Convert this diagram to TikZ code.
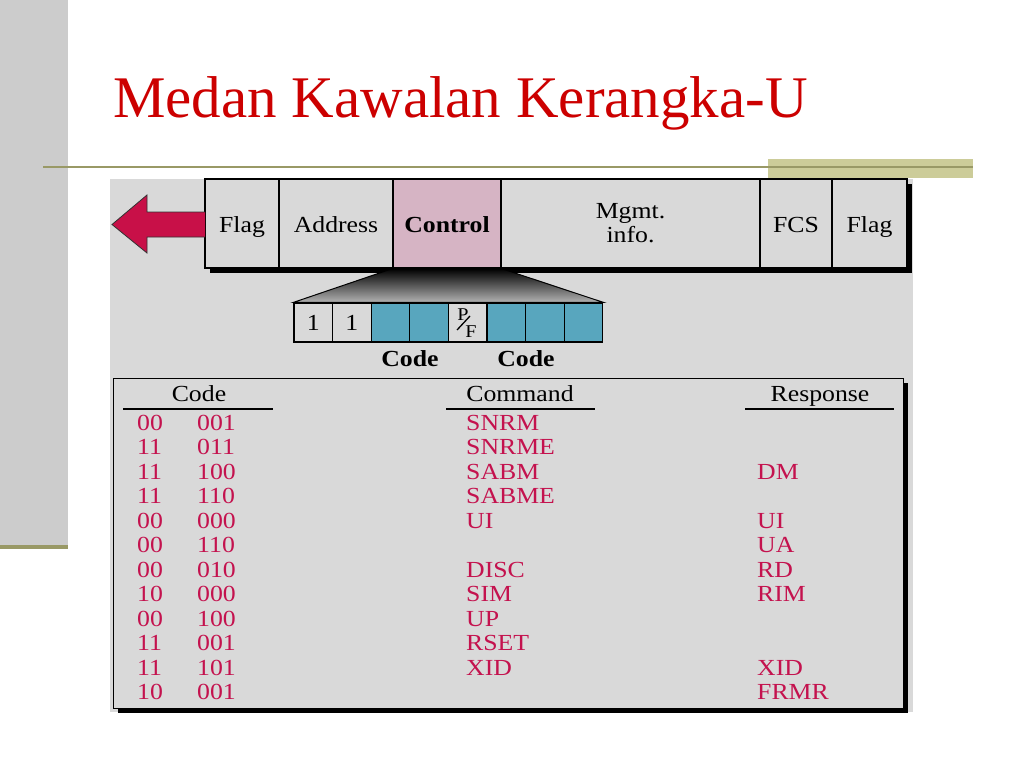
\documentclass[tikz,border=0pt]{standalone}
\usepackage{fontspec}
\setmainfont{Liberation Serif}
\newfontfamily\diagfont[FakeStretch=1.12]{Liberation Serif}
\definecolor{bggray}{RGB}{217,217,217}
\definecolor{leftgray}{RGB}{204,204,204}
\definecolor{olivedark}{RGB}{153,153,102}
\definecolor{olivelight}{RGB}{204,204,153}
\definecolor{titlered}{RGB}{204,0,0}
\definecolor{ctrlpink}{RGB}{214,180,196}
\definecolor{bitteal}{RGB}{88,166,190}
\definecolor{tabred}{RGB}{196,18,78}
\definecolor{arrowred}{RGB}{200,16,72}
\tikzset{
  dtext/.style={font=\diagfont\fontsize{23}{24}\selectfont, inner sep=0pt},
  cell/.style={dtext, draw=black, line width=1.2pt, fill=bggray, minimum height=89, align=center},
  onerow/.style={text height=17, text depth=0},
  bitbox/.style={dtext, draw=black, line width=1.2pt, minimum width=38.6, minimum height=39},
  pftext/.style={inner sep=0pt, anchor=base, font=\diagfont\fontsize{18}{18}\selectfont},
  hdr/.style={dtext, text=black, anchor=base},
  rowtext/.style={dtext, text=tabred, anchor=base west},
  rule/.style={draw=black, line width=1.2pt}
}
\begin{document}
\begin{tikzpicture}[x=1pt,y=-1pt]
\useasboundingbox (0,0) rectangle (1024,768);
\fill[white] (0,0) rectangle (1024,768);
% slide decoration
\fill[leftgray] (0,0) rectangle (68,545);
\fill[olivedark] (0,545) rectangle (68,549);
\fill[olivelight] (768,159) rectangle (973,178);
\coordinate (ruleL) at (43,167);
\coordinate (ruleR) at (973,167);
\draw[olivedark, line width=2pt] (ruleL) -- (ruleR);
\node[anchor=base west, inner sep=0pt, text=titlered, font=\fontsize{59}{60}\selectfont] (title) at (113,117) {Medan Kawalan Kerangka-U};
% diagram background
\fill[bggray] (110,179) rectangle (913,712);
% frame shadow
\fill[black] (210,184) rectangle (912,273);
% frame cells
\node[cell, onerow, minimum width=74] (flagL) at (242,223.5) {Flag};
\node[cell, onerow, minimum width=114] (addr) at (336,223.5) {Address};
\node[cell, onerow, minimum width=108, fill=ctrlpink, font=\diagfont\bfseries\fontsize{23}{24}\selectfont] (ctrl) at (447,223.5) {Control};
\node[cell, minimum width=259] (mgmt) at (630.5,223.5) {Mgmt.\\info.};
\node[cell, onerow, minimum width=72] (fcs) at (796,223.5) {FCS};
\node[cell, onerow, minimum width=75] (flagR) at (869.5,223.5) {Flag};
% direction arrow
\draw[fill=arrowred, draw=black!80, line width=0.8pt] (205,212) -- (147,212) -- (147,195) -- (112,224.5) -- (147,253) -- (147,237) -- (205,237);
% bits
\foreach \i/\f/\t in {1/bggray/1, 2/bggray/1, 3/bitteal/, 4/bitteal/, 5/bggray/, 6/bitteal/, 7/bitteal/, 8/bitteal/}{
  \node[bitbox, fill=\f] (bit\i) at ({294+38.6*(\i-0.5)},322.5) {\t};
}
% P/F bit
\node[pftext] (pfP) at (463,320) {P};
\node[pftext] (pfF) at (471,337) {F};
\coordinate (slashA) at (457,330);
\coordinate (slashB) at (470,316);
\draw[line width=1.3pt] (slashA) -- (slashB);
% zoom trapezoid
\shade[top color=black, bottom color=black!30, draw=black, line width=1pt] (ctrl.south west) -- (ctrl.south east) -- (bit8.north east) -- (bit1.north west) -- cycle;
\node[hdr, font=\diagfont\bfseries\fontsize{23}{24}\selectfont] (codeA) at (410,366) {Code};
\node[hdr, font=\diagfont\bfseries\fontsize{23}{24}\selectfont] (codeB) at (526,366) {Code};
% table
\fill[black] (118,383) rectangle (908,713);
\node[draw=black, line width=1.4pt, fill=bggray, minimum width=790, minimum height=330, anchor=north west, inner sep=0pt] (tbl) at (113,378) {};
\node[hdr] (hcode) at (199,401) {Code};
\node[hdr] (hcmd) at (520,401) {Command};
\node[hdr] (hresp) at (820,401) {Response};
\draw[rule] (123,409) -- (273,409);
\draw[rule] (446,409) -- (595,409);
\draw[rule] (745,409) -- (894,409);
\foreach \a/\b [count=\i] in {00/001,11/011,11/100,11/110,00/000,00/110,00/010,10/000,00/100,11/001,11/101,10/001}{
  \node[rowtext] (ca\i) at (137,{430+24.5*(\i-1)}) {\a};
  \node[rowtext] (cb\i) at (197,{430+24.5*(\i-1)}) {\b};
}
\foreach \i/\c in {1/SNRM,2/SNRME,3/SABM,4/SABME,5/UI,7/DISC,8/SIM,9/UP,10/RSET,11/XID}{
  \node[rowtext] (cmd\i) at (466,{430+24.5*(\i-1)}) {\c};
}
\foreach \i/\r in {3/DM,5/UI,6/UA,7/RD,8/RIM,11/XID,12/FRMR}{
  \node[rowtext] (resp\i) at (757,{430+24.5*(\i-1)}) {\r};
}
\end{tikzpicture}
\end{document}
